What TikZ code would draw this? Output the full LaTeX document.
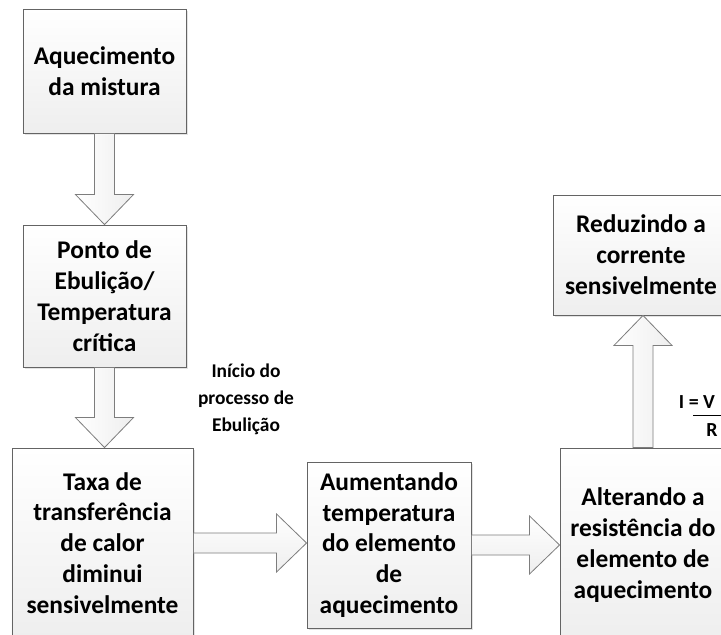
\documentclass[tikz,border=0pt]{standalone}
\usepackage{fontspec}
\setmainfont{Carlito}
\usetikzlibrary{calc,shadows}
\definecolor{boxline}{RGB}{100,100,100}
\definecolor{boxbot}{RGB}{238,238,238}
\definecolor{arrline}{RGB}{125,125,125}
\definecolor{arrfill}{RGB}{238,238,238}
\newcommand{\ArrDown}[2]{\path[blockarrow] let \p1=(#1),\p2=(#2) in
  (\x1-10bp,\y1) -- (\x1-10bp,\y2+30bp) -- (\x1-29bp,\y2+30bp) -- (\x1,\y2) --
  (\x1+29bp,\y2+30bp) -- (\x1+10bp,\y2+30bp) -- (\x1+10bp,\y1) -- cycle;}
\newcommand{\ArrUp}[2]{\path[blockarrow] let \p1=(#1),\p2=(#2) in
  (\x1-10bp,\y1) -- (\x1-10bp,\y2-30bp) -- (\x1-29bp,\y2-30bp) -- (\x1,\y2) --
  (\x1+29bp,\y2-30bp) -- (\x1+10bp,\y2-30bp) -- (\x1+10bp,\y1) -- cycle;}
\newcommand{\ArrRight}[2]{\path[blockarrowh] let \p1=(#1),\p2=(#2) in
  (\x1,\y1+10bp) -- (\x2-30bp,\y1+10bp) -- (\x2-30bp,\y1+29bp) -- (\x2,\y1) --
  (\x2-30bp,\y1-29bp) -- (\x2-30bp,\y1-10bp) -- (\x1,\y1-10bp) -- cycle;}
\begin{document}
\begin{tikzpicture}[x=1bp,y=-1bp,
  box/.style={draw=boxline, line width=0.9bp, top color=white, bottom color=boxbot,
    drop shadow={opacity=0.22, shadow xshift=2bp, shadow yshift=-2bp},
    align=center, inner sep=0pt, font=\bfseries\fontsize{25.5}{31}\selectfont},
  blockarrow/.style={draw=arrline, line width=0.8bp, left color=white, right color=arrfill, line join=miter},
  blockarrowh/.style={draw=arrline, line width=0.8bp, top color=white, bottom color=arrfill, line join=miter},
  lbl/.style={align=center, inner sep=0pt, font=\bfseries\fontsize{19.5}{27}\selectfont}]
\useasboundingbox (0,0) rectangle (721,635);
\clip (0,0) rectangle (721,635);
\fill[white] (0,0) rectangle (721,635);

\node[box, minimum width=163bp, minimum height=124bp] (b1) at (104.5,71) {Aquecimento\\da mistura};
\node[box, minimum width=163bp, minimum height=142bp] (b2) at (104.5,296) {Ponto de\\Ebulição/\\Temperatura\\crítica};
\node[box, minimum width=181bp, minimum height=190bp] (b3) at (102.5,543) {Taxa de\\transferência\\de calor\\diminui\\sensivelmente};
\node[box, minimum width=164bp, minimum height=166bp] (b4) at (389,545) {Aumentando\\temperatura\\do elemento\\de\\aquecimento};
\node[box, minimum width=166bp, minimum height=194bp] (b5) at (643,545) {Alterando a\\resistência do\\elemento de\\aquecimento};
\node[box, minimum width=176bp, minimum height=120bp] (b6) at (641,255) {Reduzindo a\\corrente\\sensivelmente};

\ArrDown{b1.south}{b2.north}
\ArrDown{b2.south}{b3.north}
\ArrRight{b3.east}{b4.west}
\ArrRight{b4.east}{b5.west}
\ArrUp{b5.north}{b6.south}

\node[lbl] (ini) at (246,399) {Início do\\processo de\\Ebulição};
\node[lbl, font=\bfseries\fontsize{20}{24}\selectfont] (iv) at (697,402) {I = V};
\coordinate (barl) at (693,415);
\coordinate (barr) at (725,415);
\draw[line width=0.9bp] (barl) -- (barr);
\node[lbl, font=\bfseries\fontsize{20}{24}\selectfont] (rr) at (712,430) {R};
\end{tikzpicture}
\end{document}
